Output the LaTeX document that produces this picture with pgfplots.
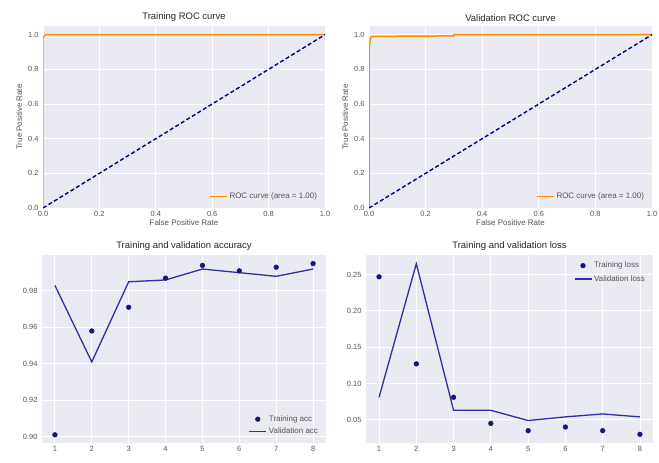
\documentclass[border=0pt]{standalone}
\usepackage{fontspec}
\setmainfont{Liberation Sans}
\usepackage{pgfplots}
\pgfplotsset{compat=1.18}
\definecolor{sbbg}{HTML}{EAEAF2}
\definecolor{tickc}{HTML}{555555}
\definecolor{titc}{HTML}{262626}
\definecolor{rocorange}{RGB}{255,140,0}
\definecolor{navyd}{RGB}{0,0,128}
\definecolor{ptblue}{RGB}{20,20,130}
\definecolor{lnblue}{RGB}{45,45,170}
\pgfplotsset{
  sb/.style={
    scale only axis,
    axis background/.style={fill=sbbg},
    axis line style={draw=none},
    grid=major,
    major grid style={white, line width=0.9pt},
    major tick length=0pt,
    tick label style={font=\fontsize{7.5}{8}\selectfont, text=tickc},
    /pgf/number format/assume math mode=true,
    title style={font=\fontsize{9.5}{10}\selectfont, text=titc, yshift=-5pt},
    label style={font=\fontsize{8}{9}\selectfont, text=tickc},
    legend style={draw=none, fill=none, font=\fontsize{8}{9}\selectfont, text=tickc, row sep=1pt},
    legend cell align=left,
    yticklabel style={xshift=-1pt},
  },
  roc/.style={
    sb, width=282bp, height=182bp,
    xmin=0, xmax=1, ymin=0, ymax=1.05,
    xtick={0,0.2,0.4,0.6,0.8,1.0},
    ytick={0,0.2,0.4,0.6,0.8,1.0},
    xticklabel style={/pgf/number format/.cd, fixed, fixed zerofill, precision=1},
    yticklabel style={/pgf/number format/.cd, fixed, fixed zerofill, precision=1},
    xlabel={False Positive Rate}, ylabel={True Positive Rate},
    xlabel style={yshift=4pt}, ylabel style={yshift=-1pt},
    legend style={at={(0.99,0.02)}, anchor=south east},
  },
  hist/.style={
    sb, width=284bp, height=188bp,
    xmin=0.65, xmax=8.35,
    xtick={1,2,3,4,5,6,7,8},
    yticklabel style={/pgf/number format/.cd, fixed, fixed zerofill, precision=2},
  },
}
\begin{document}
\begin{tikzpicture}
\useasboundingbox (0,0) rectangle (659bp,-463bp);
% Training ROC
\begin{axis}[roc, at={(43bp,-26bp)}, anchor=north west, title={Training ROC curve}]
\addplot[rocorange, line width=1.5pt] coordinates {(0,0) (0,0.985) (0.01,1.0) (1,1)};
\addlegendentry{ROC curve (area = 1.00)}
\addplot[navyd, line width=1.4pt, dash pattern=on 4pt off 2.5pt, forget plot] coordinates {(0,0) (1,1)};
\end{axis}
% Validation ROC
\begin{axis}[roc, at={(369bp,-26bp)}, anchor=north west, width=283bp, title={Validation ROC curve}]
\addplot[rocorange, line width=1.5pt] coordinates {(0,0) (0,0.90) (0.004,0.97) (0.006,0.985) (0.015,0.99) (0.3,0.993) (0.3,1.0) (1,1)};
\addlegendentry{ROC curve (area = 1.00)}
\addplot[navyd, line width=1.4pt, dash pattern=on 4pt off 2.5pt, forget plot] coordinates {(0,0) (1,1)};
\end{axis}
% Accuracy
\begin{axis}[hist, at={(42bp,-255bp)}, anchor=north west, title={Training and validation accuracy},
  ymin=0.8965, ymax=0.9997, ytick={0.90,0.92,0.94,0.96,0.98},
  legend style={at={(0.99,0.02)}, anchor=south east}]
\addplot[only marks, mark=*, mark size=2.4pt, ptblue] coordinates {
(1,0.901) (2,0.958) (3,0.971) (4,0.987) (5,0.994) (6,0.991) (7,0.993) (8,0.995)};
\addlegendentry{Training acc}
\addplot[lnblue, line width=1.3pt] coordinates {
(1,0.983) (2,0.941) (3,0.985) (4,0.986) (5,0.992) (6,0.990) (7,0.988) (8,0.992)};
\addlegendentry{Validation acc}
\end{axis}
% Loss
\begin{axis}[hist, at={(366bp,-255bp)}, anchor=north west, width=287bp, title={Training and validation loss},
  ymin=0.018, ymax=0.277, ytick={0.05,0.10,0.15,0.20,0.25},
  legend style={at={(0.99,0.985)}, anchor=north east, row sep=2pt}]
\addplot[only marks, mark=*, mark size=2.4pt, ptblue] coordinates {
(1,0.247) (2,0.127) (3,0.081) (4,0.045) (5,0.035) (6,0.040) (7,0.035) (8,0.030)};
\addlegendentry{Training loss}
\addplot[lnblue, line width=1.3pt] coordinates {
(1,0.081) (2,0.265) (3,0.063) (4,0.063) (5,0.049) (6,0.054) (7,0.058) (8,0.054)};
\addlegendentry{Validation loss}
\end{axis}
\end{tikzpicture}
\end{document}
